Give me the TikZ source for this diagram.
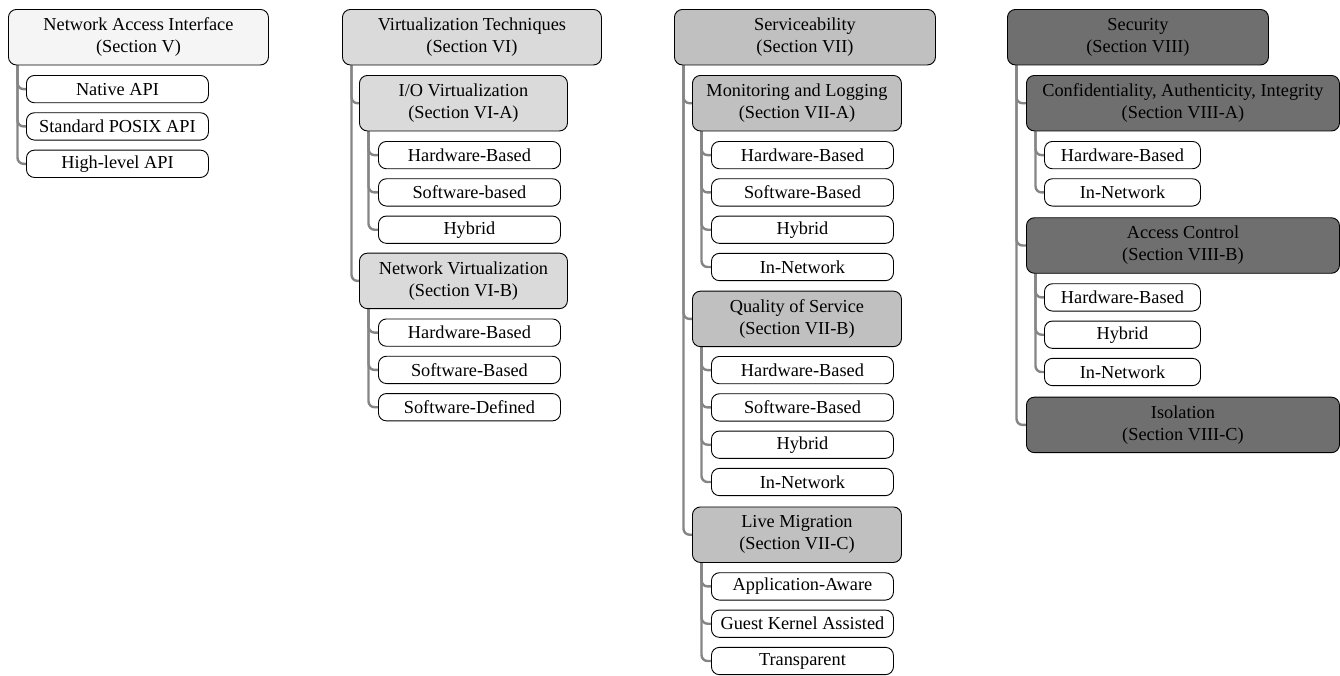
\documentclass[tikz,border=0pt]{standalone}
\usepackage{fontspec}
\setmainfont{Liberation Serif}
\usetikzlibrary{backgrounds}
\definecolor{lvlA}{HTML}{F5F5F5}
\definecolor{lvlB}{HTML}{DADADA}
\definecolor{lvlC}{HTML}{C0C0C0}
\definecolor{lvlD}{HTML}{6F6F6F}
\definecolor{linkgray}{HTML}{858585}
\begin{document}
\begin{tikzpicture}[x=1pt,y=-1pt,
  box/.style={draw=black, line width=0.9pt, rounded corners=8pt, anchor=north west,
              inner sep=0pt, align=center, font=\fontsize{18.3}{22}\selectfont},
  sect/.style={box, minimum height=55.5pt},
  leaf/.style={box, fill=white, minimum height=27.3pt, minimum width=182pt},
  conn/.style={draw=linkgray, line width=2.4pt, rounded corners=6pt},
]
\useasboundingbox (0,0) rectangle (1340,675);

% ---- Network Access Interface ----
\node[sect, fill=lvlA, minimum width=260pt] (n1) at (8,9) {Network Access Interface\\(Section V)};
\node[leaf] (n1a) at (26,75)    {Native API};
\node[leaf] (n1b) at (26,112.3) {Standard POSIX API};
\node[leaf] (n1c) at (26,149.7) {High-level API};

% ---- Virtualization Techniques ----
\node[sect, fill=lvlB, minimum width=259pt] (n2) at (342,9) {Virtualization Techniques\\(Section VI)};
\node[sect, fill=lvlB, minimum width=208pt] (n2a) at (359,75) {I/O Virtualization\\(Section VI-A)};
\node[leaf] (n2a1) at (378,141)   {Hardware-Based};
\node[leaf] (n2a2) at (378,178.3) {Software-based};
\node[leaf] (n2a3) at (378,215.6) {Hybrid};
\node[sect, fill=lvlB, minimum width=208pt] (n2b) at (359,252.7) {Network Virtualization\\(Section VI-B)};
\node[leaf] (n2b1) at (378,318.5) {Hardware-Based};
\node[leaf] (n2b2) at (378,355.8) {Software-Based};
\node[leaf] (n2b3) at (378,393.1) {Software-Defined};

% ---- Serviceability ----
\node[sect, fill=lvlC, minimum width=261pt] (n3) at (674,9) {Serviceability\\(Section VII)};
\node[sect, fill=lvlC, minimum width=209pt] (n3a) at (692,75) {Monitoring and Logging\\(Section VII-A)};
\node[leaf] (n3a1) at (711,141)   {Hardware-Based};
\node[leaf] (n3a2) at (711,178.3) {Software-Based};
\node[leaf] (n3a3) at (711,215.6) {Hybrid};
\node[leaf] (n3a4) at (711,252.9) {In-Network};
\node[sect, fill=lvlC, minimum width=209pt] (n3b) at (692,290.7) {Quality of Service\\(Section VII-B)};
\node[leaf] (n3b1) at (711,356)   {Hardware-Based};
\node[leaf] (n3b2) at (711,393.3) {Software-Based};
\node[leaf] (n3b3) at (711,430.6) {Hybrid};
\node[leaf] (n3b4) at (711,467.9) {In-Network};
\node[sect, fill=lvlC, minimum width=209pt] (n3c) at (692,506.5) {Live Migration\\(Section VII-C)};
\node[leaf] (n3c1) at (711,572.3) {Application-Aware};
\node[leaf] (n3c2) at (711,609.6) {Guest Kernel Assisted};
\node[leaf] (n3c3) at (711,646.9) {Transparent};

% ---- Security ----
\node[sect, fill=lvlD, minimum width=261pt] (n4) at (1007,9) {Security\\(Section VIII)};
\node[sect, fill=lvlD, minimum width=313pt] (n4a) at (1026,75) {Confidentiality, Authenticity, Integrity\\(Section VIII-A)};
\node[leaf, minimum width=156pt] (n4a1) at (1044,141)   {Hardware-Based};
\node[leaf, minimum width=156pt] (n4a2) at (1044,178.3) {In-Network};
\node[sect, fill=lvlD, minimum width=313pt] (n4b) at (1026,217.3) {Access Control\\(Section VIII-B)};
\node[leaf, minimum width=156pt] (n4b1) at (1044,283.3) {Hardware-Based};
\node[leaf, minimum width=156pt] (n4b2) at (1044,320.6) {Hybrid};
\node[leaf, minimum width=156pt] (n4b3) at (1044,357.9) {In-Network};
\node[sect, fill=lvlD, minimum width=313pt] (n4c) at (1026,396.7) {Isolation\\(Section VIII-C)};

% ---- folder-style links, drawn behind the boxes ----
\begin{scope}[on background layer]
  \foreach \p/\c in {n1/n1a, n1/n1b, n1/n1c,
                     n2/n2a, n2/n2b, n2a/n2a1, n2a/n2a2, n2a/n2a3, n2b/n2b1, n2b/n2b2, n2b/n2b3,
                     n3/n3a, n3/n3b, n3/n3c, n3a/n3a1, n3a/n3a2, n3a/n3a3, n3a/n3a4,
                     n3b/n3b1, n3b/n3b2, n3b/n3b3, n3b/n3b4, n3c/n3c1, n3c/n3c2, n3c/n3c3,
                     n4/n4a, n4/n4b, n4/n4c, n4a/n4a1, n4a/n4a2, n4b/n4b1, n4b/n4b2, n4b/n4b3}
    \draw[conn] ([xshift=9.5pt]\p.south west) |- (\c.west);
\end{scope}
\end{tikzpicture}
\end{document}
